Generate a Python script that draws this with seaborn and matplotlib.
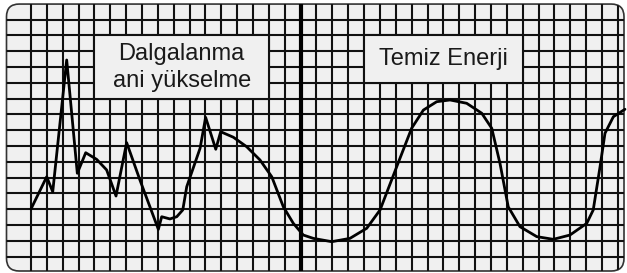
import matplotlib

matplotlib.use("Agg")

import matplotlib.pyplot as plt
import pandas as pd
import seaborn as sns
from matplotlib.patches import FancyBboxPatch, Rectangle

# line values, in grid cells (x: columns from left line, y: rows from bottom line)
spike_x = [0.0, 0.99, 1.37, 2.25, 2.92, 3.45, 4.14, 4.77, 5.36, 6.03, 6.87, 8.03,
           8.24, 8.76, 9.19, 9.57, 9.82, 10.66, 11.01, 11.65, 11.96]
spike_y = [3.02, 5.06, 4.11, 12.45, 5.28, 6.58, 6.16, 5.49, 3.84, 7.22, 4.85, 1.73,
           2.53, 2.39, 2.53, 2.96, 4.43, 6.86, 8.82, 6.80, 7.91]
wave_x = [12.76, 13.60, 14.44, 15.18, 15.91, 16.54, 17.17, 17.80, 18.96, 20.11,
          21.17, 22.01, 23.06, 24.00, 24.74, 25.58, 26.42, 27.47, 28.42, 29.05,
          29.57, 30.09, 30.83, 31.89, 32.93, 33.98, 35.04, 35.45, 35.88, 36.19,
          36.72, 37.45]
wave_y = [7.56, 6.96, 6.12, 5.06, 3.16, 2.11, 1.37, 1.16, 0.95, 1.16, 1.80, 2.96,
          5.70, 8.13, 9.28, 9.81, 9.92, 9.71, 9.08, 8.13, 5.91, 3.16, 1.90, 1.27,
          1.10, 1.37, 2.11, 2.96, 5.70, 7.81, 8.86, 9.33]

n_cols = 38
n_rows = 16
divider_col = 17
labels = ["Dalgalanma\nani yükselme", "Temiz Enerji"]
label_boxes = [(4, 10, 11, 4), (21, 11, 10, 3)]  # col, row, width, height

df = pd.DataFrame({"x": spike_x + wave_x, "y": spike_y + wave_y})

sns.set_style("white")
plt.rcParams["font.family"] = ["Liberation Sans", "DejaVu Sans"]

fig = plt.figure(figsize=(6.27, 2.73), dpi=100)
ax = fig.add_axes([0, 0, 1, 1])
cw, rh = 15.86, 15.8
ax.set_xlim(-31 / cw, (627 - 31) / cw)
ax.set_ylim((256.7 - 273) / rh, 256.7 / rh)
ax.axis("off")

panel = FancyBboxPatch((-1.545, -0.905), 37.39 + 1.545, 15.99 + 0.905,
                       boxstyle="round,pad=0,rounding_size=0.8",
                       facecolor="#f0f0f0", edgecolor="#333333", lw=1.2, zorder=0)
ax.add_patch(panel)

vl = ax.vlines(range(n_cols), -2, 17, color="#111111", lw=1.5, zorder=1)
hl = ax.hlines(range(n_rows), -3, 39, color="#111111", lw=1.5, zorder=1)
dv = ax.vlines([divider_col], -2, 17, color="black", lw=3, zorder=2)
for coll in (vl, hl, dv):
    coll.set_clip_path(panel)

for text, (c, r, w, h) in zip(labels, label_boxes):
    ax.add_patch(Rectangle((c, r), w, h, facecolor="#f0f0f0", edgecolor="#111111",
                           lw=1.5, zorder=3))
    ax.text(c + w / 2, r + h / 2, text, ha="center", va="center", fontsize=17,
            color="#1a1a1a", linespacing=1.3, zorder=4)

sns.lineplot(data=df, x="x", y="y", sort=False, color="black", lw=2.0, ax=ax,
             zorder=5)
ax.axis("off")

fig.savefig("out.png", dpi=100)
